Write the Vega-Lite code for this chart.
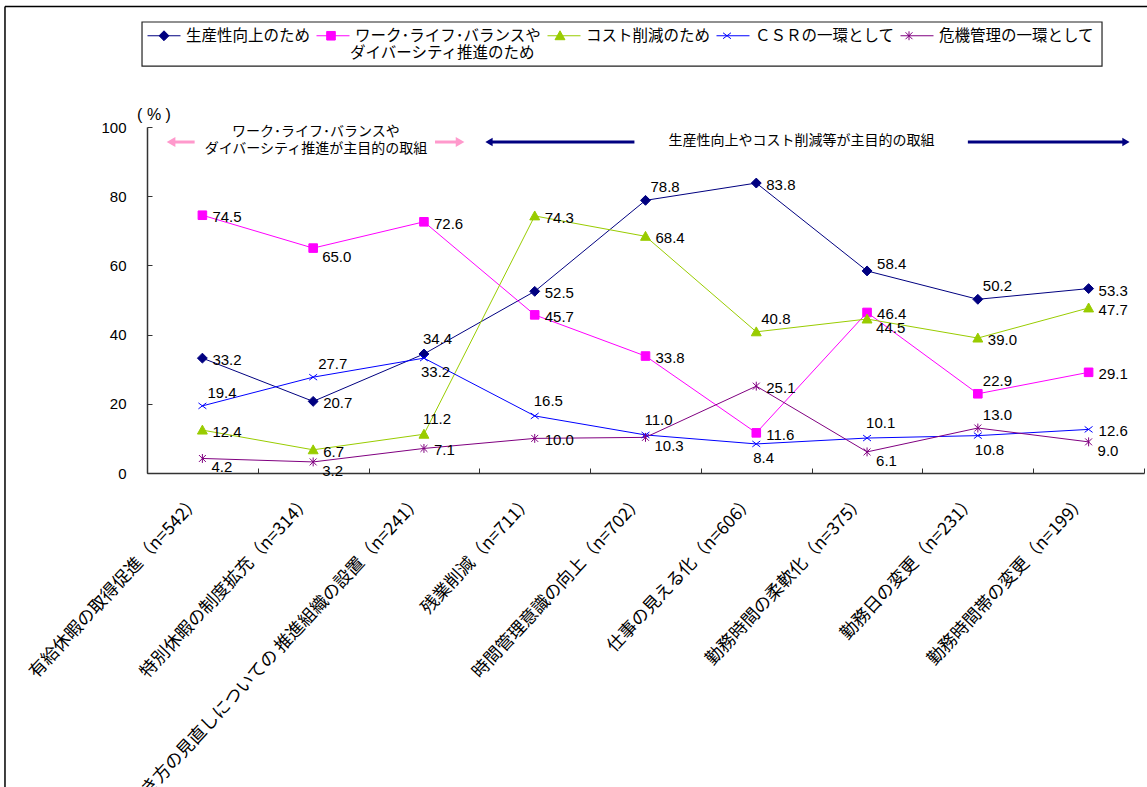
{
  "$schema": "https://vega.github.io/schema/vega-lite/v6.json",
  "width": 997,
  "height": 346,
  "autosize": {"type": "none"},
  "padding": {"left": 147, "top": 127, "right": 3, "bottom": 314},
  "background": "white",
  "config": {"view": {"stroke": null}, "font": "Liberation Sans"},
  "resolve": {"scale": {"x": "independent", "y": "independent", "color": "independent", "shape": "independent", "fill": "independent", "stroke": "independent"}},
  "layer": [
    {
      "data": {"values": [
        {"category": "有給休暇の取得促進（n=542）", "series": "生産性向上のため", "value": 33.2},
        {"category": "特別休暇の制度拡充（n=314）", "series": "生産性向上のため", "value": 20.7},
        {"category": "働き方の見直しについての 推進組織の設置（n=241）", "series": "生産性向上のため", "value": 34.4},
        {"category": "残業削減（n=711）", "series": "生産性向上のため", "value": 52.5},
        {"category": "時間管理意識の向上（n=702）", "series": "生産性向上のため", "value": 78.8},
        {"category": "仕事の見える化（n=606）", "series": "生産性向上のため", "value": 83.8},
        {"category": "勤務時間の柔軟化（n=375）", "series": "生産性向上のため", "value": 58.4},
        {"category": "勤務日の変更（n=231）", "series": "生産性向上のため", "value": 50.2},
        {"category": "勤務時間帯の変更（n=199）", "series": "生産性向上のため", "value": 53.3},
        {"category": "有給休暇の取得促進（n=542）", "series": "ワーク･ライフ･バランスやダイバーシティ推進のため", "value": 74.5},
        {"category": "特別休暇の制度拡充（n=314）", "series": "ワーク･ライフ･バランスやダイバーシティ推進のため", "value": 65.0},
        {"category": "働き方の見直しについての 推進組織の設置（n=241）", "series": "ワーク･ライフ･バランスやダイバーシティ推進のため", "value": 72.6},
        {"category": "残業削減（n=711）", "series": "ワーク･ライフ･バランスやダイバーシティ推進のため", "value": 45.7},
        {"category": "時間管理意識の向上（n=702）", "series": "ワーク･ライフ･バランスやダイバーシティ推進のため", "value": 33.8},
        {"category": "仕事の見える化（n=606）", "series": "ワーク･ライフ･バランスやダイバーシティ推進のため", "value": 11.6},
        {"category": "勤務時間の柔軟化（n=375）", "series": "ワーク･ライフ･バランスやダイバーシティ推進のため", "value": 46.4},
        {"category": "勤務日の変更（n=231）", "series": "ワーク･ライフ･バランスやダイバーシティ推進のため", "value": 22.9},
        {"category": "勤務時間帯の変更（n=199）", "series": "ワーク･ライフ･バランスやダイバーシティ推進のため", "value": 29.1},
        {"category": "有給休暇の取得促進（n=542）", "series": "コスト削減のため", "value": 12.4},
        {"category": "特別休暇の制度拡充（n=314）", "series": "コスト削減のため", "value": 6.7},
        {"category": "働き方の見直しについての 推進組織の設置（n=241）", "series": "コスト削減のため", "value": 11.2},
        {"category": "残業削減（n=711）", "series": "コスト削減のため", "value": 74.3},
        {"category": "時間管理意識の向上（n=702）", "series": "コスト削減のため", "value": 68.4},
        {"category": "仕事の見える化（n=606）", "series": "コスト削減のため", "value": 40.8},
        {"category": "勤務時間の柔軟化（n=375）", "series": "コスト削減のため", "value": 44.5},
        {"category": "勤務日の変更（n=231）", "series": "コスト削減のため", "value": 39.0},
        {"category": "勤務時間帯の変更（n=199）", "series": "コスト削減のため", "value": 47.7},
        {"category": "有給休暇の取得促進（n=542）", "series": "ＣＳＲの一環として", "value": 19.4},
        {"category": "特別休暇の制度拡充（n=314）", "series": "ＣＳＲの一環として", "value": 27.7},
        {"category": "働き方の見直しについての 推進組織の設置（n=241）", "series": "ＣＳＲの一環として", "value": 33.2},
        {"category": "残業削減（n=711）", "series": "ＣＳＲの一環として", "value": 16.5},
        {"category": "時間管理意識の向上（n=702）", "series": "ＣＳＲの一環として", "value": 11.0},
        {"category": "仕事の見える化（n=606）", "series": "ＣＳＲの一環として", "value": 8.4},
        {"category": "勤務時間の柔軟化（n=375）", "series": "ＣＳＲの一環として", "value": 10.1},
        {"category": "勤務日の変更（n=231）", "series": "ＣＳＲの一環として", "value": 10.8},
        {"category": "勤務時間帯の変更（n=199）", "series": "ＣＳＲの一環として", "value": 12.6},
        {"category": "有給休暇の取得促進（n=542）", "series": "危機管理の一環として", "value": 4.2},
        {"category": "特別休暇の制度拡充（n=314）", "series": "危機管理の一環として", "value": 3.2},
        {"category": "働き方の見直しについての 推進組織の設置（n=241）", "series": "危機管理の一環として", "value": 7.1},
        {"category": "残業削減（n=711）", "series": "危機管理の一環として", "value": 10.0},
        {"category": "時間管理意識の向上（n=702）", "series": "危機管理の一環として", "value": 10.3},
        {"category": "仕事の見える化（n=606）", "series": "危機管理の一環として", "value": 25.1},
        {"category": "勤務時間の柔軟化（n=375）", "series": "危機管理の一環として", "value": 6.1},
        {"category": "勤務日の変更（n=231）", "series": "危機管理の一環として", "value": 13.0},
        {"category": "勤務時間帯の変更（n=199）", "series": "危機管理の一環として", "value": 9.0}
      ]},
      "encoding": {
        "x": {
          "field": "category", "type": "nominal", "sort": null,
          "scale": {"type": "band", "paddingInner": 0, "paddingOuter": 0},
          "axis": {
            "title": null, "tickBand": "extent", "tickSize": -5, "labelAngle": -47,
            "labelAlign": "right", "labelBaseline": "middle", "labelFont": "Noto Sans CJK JP",
            "labelFontSize": 17.5, "labelColor": "#000", "labelPadding": 30, "labelOffset": -5,
            "labelLimit": 0, "labelOverlap": false, "labelBound": false, "labelFlush": false,
            "domainColor": "#333", "tickColor": "#333", "domainWidth": 1.5, "tickWidth": 1
          }
        },
        "y": {
          "field": "value", "type": "quantitative",
          "scale": {"domain": [0, 100], "nice": false, "zero": false},
          "axis": {
            "title": "( % )", "titleAngle": 0, "titleX": 6.5, "titleY": -13, "titleAlign": "center",
            "titleBaseline": "middle", "titleFont": "Liberation Sans", "titleFontSize": 16,
            "titleFontWeight": "normal", "titleColor": "#000",
            "values": [0, 20, 40, 60, 80, 100], "tickSize": -5, "labelPadding": 26,
            "labelFontSize": 15, "labelFont": "Liberation Sans", "labelColor": "#000", "grid": false,
            "domainColor": "#333", "tickColor": "#333", "domainWidth": 1.5
          }
        }
      },
      "layer": [
        {
          "mark": {"type": "line", "strokeWidth": 1},
          "encoding": {
            "color": {
              "field": "series", "type": "nominal", "sort": null,
              "scale": {
                "domain": ["生産性向上のため", "ワーク･ライフ･バランスやダイバーシティ推進のため", "コスト削減のため", "ＣＳＲの一環として", "危機管理の一環として"],
                "range": ["#000080", "#FF00FF", "#99CC00", "#0000FF", "#800080"]
              },
              "legend": {
                "orient": "none", "legendX": 0, "legendY": -108.5, "direction": "horizontal", "columns": 5,
                "title": null, "padding": 0, "symbolType": "stroke", "symbolSize": 1089, "symbolStrokeWidth": 1,
                "columnPadding": 3, "labelOffset": 5,
                "labelFont": "Noto Sans CJK JP", "labelFontSize": 15.5, "labelColor": "#000", "labelLimit": 0,
                "labelExpr": "datum.label === 'ワーク･ライフ･バランスやダイバーシティ推進のため' ? 'ワーク･ライフ･バランスや' : datum.label"
              }
            }
          }
        },
        {
          "transform": [{"calculate": "datum.series", "as": "marker"}],
          "mark": {"type": "point", "filled": true, "size": 1089, "opacity": 1, "strokeWidth": 1},
          "encoding": {
            "fill": {
              "field": "marker", "type": "nominal", "sort": null,
              "scale": {"range": ["#000080", "#FF00FF", "#99CC00", "#0000FF", "#800080"]},
              "legend": {
                "orient": "none", "legendX": 0, "legendY": -108.5, "direction": "horizontal", "columns": 5,
                "title": null, "padding": 0, "symbolSize": 1089, "symbolStrokeWidth": 1,
                "columnPadding": 3, "labelOffset": 5,
                "labelFont": "Noto Sans CJK JP", "labelFontSize": 15.5, "labelColor": "transparent", "labelLimit": 0,
                "labelExpr": "datum.label === 'ワーク･ライフ･バランスやダイバーシティ推進のため' ? 'ワーク･ライフ･バランスや' : datum.label"
              }
            },
            "stroke": {
              "field": "marker", "type": "nominal", "sort": null,
              "scale": {"range": ["#000080", "#FF00FF", "#99CC00", "#0000FF", "#800080"]},
              "legend": {
                "orient": "none", "legendX": 0, "legendY": -108.5, "direction": "horizontal", "columns": 5,
                "title": null, "padding": 0, "symbolSize": 1089, "symbolStrokeWidth": 1,
                "columnPadding": 3, "labelOffset": 5,
                "labelFont": "Noto Sans CJK JP", "labelFontSize": 15.5, "labelColor": "transparent", "labelLimit": 0,
                "labelExpr": "datum.label === 'ワーク･ライフ･バランスやダイバーシティ推進のため' ? 'ワーク･ライフ･バランスや' : datum.label"
              }
            },
            "shape": {
              "field": "marker", "type": "nominal", "sort": null,
              "scale": {
                "range": ["M0,-0.3L0.3,0L0,0.3L-0.3,0Z", "M-0.26,-0.26H0.26V0.26H-0.26Z", "M0,-0.3L0.3,0.24L-0.3,0.24Z", "M-0.24,-0.18L0.24,0.18M-0.24,0.18L0.24,-0.18", "M-0.21,-0.21L0.21,0.21M-0.21,0.21L0.21,-0.21M0,-0.27V0.27"]
              },
              "legend": {
                "orient": "none", "legendX": 0, "legendY": -108.5, "direction": "horizontal", "columns": 5,
                "title": null, "padding": 0, "symbolSize": 1089, "symbolStrokeWidth": 1,
                "columnPadding": 3, "labelOffset": 5,
                "labelFont": "Noto Sans CJK JP", "labelFontSize": 15.5, "labelColor": "transparent", "labelLimit": 0,
                "labelExpr": "datum.label === 'ワーク･ライフ･バランスやダイバーシティ推進のため' ? 'ワーク･ライフ･バランスや' : datum.label"
              }
            }
          }
        },
        {
          "transform": [{"filter": "(datum.series==='生産性向上のため' && indexof([33.2,20.7,52.5,83.8,53.3],datum.value)>=0) || (datum.series==='ワーク･ライフ･バランスやダイバーシティ推進のため' && indexof([74.5,72.6,45.7,33.8,11.6,46.4,29.1],datum.value)>=0) || (datum.series==='コスト削減のため' && indexof([12.4,6.7,74.3,68.4,39.0,47.7],datum.value)>=0) || (datum.series==='ＣＳＲの一環として' && datum.value===12.6) || (datum.series==='危機管理の一環として' && indexof([7.1,10.0,25.1],datum.value)>=0)"}],
          "mark": {"type": "text", "align": "left", "baseline": "middle", "dx": 10, "dy": 2, "fontSize": 15, "font": "Liberation Sans", "color": "#000"},
          "encoding": {"text": {"field": "value", "type": "quantitative", "format": ".1f"}}
        },
        {
          "transform": [{"filter": "datum.series==='生産性向上のため' && datum.value===58.4"}],
          "mark": {"type": "text", "align": "left", "baseline": "middle", "dx": 10, "dy": -7, "fontSize": 15, "font": "Liberation Sans", "color": "#000"},
          "encoding": {"text": {"field": "value", "type": "quantitative", "format": ".1f"}}
        },
        {
          "transform": [{"filter": "(datum.series==='生産性向上のため' && indexof([78.8,50.2],datum.value)>=0) || (datum.series==='ワーク･ライフ･バランスやダイバーシティ推進のため' && datum.value===22.9) || (datum.series==='コスト削減のため' && datum.value===40.8) || (datum.series==='ＣＳＲの一環として' && indexof([19.4,27.7],datum.value)>=0) || (datum.series==='危機管理の一環として' && datum.value===13.0)"}],
          "mark": {"type": "text", "align": "left", "baseline": "middle", "dx": 5, "dy": -13, "fontSize": 15, "font": "Liberation Sans", "color": "#000"},
          "encoding": {"text": {"field": "value", "type": "quantitative", "format": ".1f"}}
        },
        {
          "transform": [{"filter": "(datum.series==='生産性向上のため' && datum.value===34.4) || (datum.series==='コスト削減のため' && datum.value===11.2) || (datum.series==='ＣＳＲの一環として' && indexof([16.5,11.0,10.1],datum.value)>=0)"}],
          "mark": {"type": "text", "align": "left", "baseline": "middle", "dx": -1, "dy": -15, "fontSize": 15, "font": "Liberation Sans", "color": "#000"},
          "encoding": {"text": {"field": "value", "type": "quantitative", "format": ".1f"}}
        },
        {
          "transform": [{"filter": "(datum.series==='ワーク･ライフ･バランスやダイバーシティ推進のため' && datum.value===65.0) || (datum.series==='コスト削減のため' && datum.value===44.5) || (datum.series==='危機管理の一環として' && indexof([4.2,3.2,10.3,6.1,9.0],datum.value)>=0)"}],
          "mark": {"type": "text", "align": "left", "baseline": "middle", "dx": 9, "dy": 9, "fontSize": 15, "font": "Liberation Sans", "color": "#000"},
          "encoding": {"text": {"field": "value", "type": "quantitative", "format": ".1f"}}
        },
        {
          "transform": [{"filter": "datum.series==='ＣＳＲの一環として' && indexof([33.2,8.4,10.8],datum.value)>=0"}],
          "mark": {"type": "text", "align": "left", "baseline": "middle", "dx": -3, "dy": 14, "fontSize": 15, "font": "Liberation Sans", "color": "#000"},
          "encoding": {"text": {"field": "value", "type": "quantitative", "format": ".1f"}}
        }
      ]
    },
    {
      "layer": [
        {
          "data": {"values": [
            {"x": -1.282, "x2": 9.05, "y": 134.8, "y2": 134.8},
            {"x": -1.282, "x2": -1.282, "y": 134.8, "y2": -91}
          ]},
          "mark": {"type": "rule", "color": "#000", "strokeWidth": 1.5},
          "encoding": {
            "x": {"field": "x", "type": "quantitative", "scale": {"domain": [0, 9], "nice": false, "zero": false}, "axis": null},
            "x2": {"field": "x2"},
            "y": {"field": "y", "type": "quantitative", "scale": {"domain": [0, 100], "nice": false, "zero": false}, "axis": null},
            "y2": {"field": "y2"}
          }
        },
        {
          "data": {"values": [
            {"x": -0.045, "x2": 8.621, "y": 130.35, "y2": 117.6}
          ]},
          "mark": {"type": "rect", "fill": null, "fillOpacity": 0, "stroke": "#222", "strokeWidth": 1.2},
          "encoding": {
            "x": {"field": "x", "type": "quantitative", "scale": {"domain": [0, 9], "nice": false, "zero": false}, "axis": null},
            "x2": {"field": "x2"},
            "y": {"field": "y", "type": "quantitative", "scale": {"domain": [0, 100], "nice": false, "zero": false}, "axis": null},
            "y2": {"field": "y2"}
          }
        },
        {
          "data": {"values": [
            {"x": 1.8325, "y": 121.39, "t": "ダイバーシティ推進のため"}
          ]},
          "mark": {"type": "text", "align": "left", "baseline": "middle", "font": "Noto Sans CJK JP", "fontSize": 15.5, "color": "#000"},
          "encoding": {
            "x": {"field": "x", "type": "quantitative", "scale": {"domain": [0, 9], "nice": false, "zero": false}, "axis": null},
            "y": {"field": "y", "type": "quantitative", "scale": {"domain": [0, 100], "nice": false, "zero": false}, "axis": null},
            "text": {"field": "t", "type": "nominal"}
          }
        },
        {
          "data": {"values": [
            {"x": 0.217, "x2": 0.43, "y": 95.66},
            {"x": 2.60, "x2": 2.826, "y": 95.66}
          ]},
          "mark": {"type": "rule", "color": "#FF99CC", "strokeWidth": 3},
          "encoding": {
            "x": {"field": "x", "type": "quantitative", "scale": {"domain": [0, 9], "nice": false, "zero": false}, "axis": null},
            "x2": {"field": "x2"},
            "y": {"field": "y", "type": "quantitative", "scale": {"domain": [0, 100], "nice": false, "zero": false}, "axis": null}
          }
        },
        {
          "data": {"values": [
            {"x": 3.087, "x2": 4.40, "y": 95.66},
            {"x": 7.41, "x2": 8.837, "y": 95.66}
          ]},
          "mark": {"type": "rule", "color": "#000080", "strokeWidth": 3},
          "encoding": {
            "x": {"field": "x", "type": "quantitative", "scale": {"domain": [0, 9], "nice": false, "zero": false}, "axis": null},
            "x2": {"field": "x2"},
            "y": {"field": "y", "type": "quantitative", "scale": {"domain": [0, 100], "nice": false, "zero": false}, "axis": null}
          }
        },
        {
          "data": {"values": [
            {"x": 0.217, "y": 95.66, "dir": "left"},
            {"x": 2.826, "y": 95.66, "dir": "right"}
          ]},
          "mark": {"type": "point", "filled": true, "color": "#FF99CC", "size": 100, "opacity": 1},
          "encoding": {
            "x": {"field": "x", "type": "quantitative", "scale": {"domain": [0, 9], "nice": false, "zero": false}, "axis": null},
            "y": {"field": "y", "type": "quantitative", "scale": {"domain": [0, 100], "nice": false, "zero": false}, "axis": null},
            "shape": {"field": "dir", "type": "nominal", "scale": {"domain": ["left", "right"], "range": ["triangle-left", "triangle-right"]}, "legend": null}
          }
        },
        {
          "data": {"values": [
            {"x": 3.087, "y": 95.66, "dir": "left"},
            {"x": 8.837, "y": 95.66, "dir": "right"}
          ]},
          "mark": {"type": "point", "filled": true, "color": "#000080", "size": 70, "opacity": 1},
          "encoding": {
            "x": {"field": "x", "type": "quantitative", "scale": {"domain": [0, 9], "nice": false, "zero": false}, "axis": null},
            "y": {"field": "y", "type": "quantitative", "scale": {"domain": [0, 100], "nice": false, "zero": false}, "axis": null},
            "shape": {"field": "dir", "type": "nominal", "scale": {"domain": ["left", "right"], "range": ["triangle-left", "triangle-right"]}, "legend": null}
          }
        },
        {
          "data": {"values": [
            {"x": 1.525, "y": 98.6, "t": "ワーク･ライフ･バランスや\nダイバーシティ推進が主目的の取組"},
            {"x": 5.908, "y": 96.0, "t": "生産性向上やコスト削減等が主目的の取組"}
          ]},
          "mark": {"type": "text", "lineBreak": "\n", "align": "center", "baseline": "middle", "font": "Noto Sans CJK JP", "fontSize": 14, "lineHeight": 17, "color": "#000"},
          "encoding": {
            "x": {"field": "x", "type": "quantitative", "scale": {"domain": [0, 9], "nice": false, "zero": false}, "axis": null},
            "y": {"field": "y", "type": "quantitative", "scale": {"domain": [0, 100], "nice": false, "zero": false}, "axis": null},
            "text": {"field": "t", "type": "nominal"}
          }
        }
      ]
    }
  ]
}
